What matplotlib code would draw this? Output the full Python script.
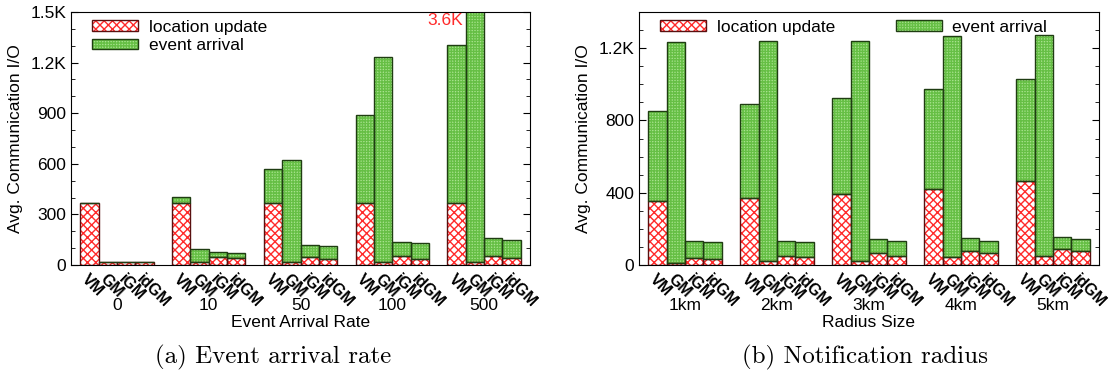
import numpy as np
import matplotlib
matplotlib.use('Agg')
import matplotlib.pyplot as plt
from matplotlib.patches import Patch
from matplotlib.legend_handler import HandlerTuple

plt.rcParams['font.family'] = ['Liberation Sans', 'DejaVu Sans']
plt.rcParams['hatch.linewidth'] = 1.0

methods = ['VM', 'GM', 'iGM', 'idGM']

# (a) event arrival rate
rate_groups = ['0', '10', '50', '100', '500']
rate_loc = [[370, 20, 20, 20],
            [370, 18, 46, 40],
            [370, 15, 46, 37],
            [370, 15, 52, 37],
            [370, 15, 52, 43]]
rate_total = [[370, 20, 20, 20],
              [405, 95, 75, 71],
              [568, 625, 119, 111],
              [888, 1232, 138, 129],
              [1305, 3600, 158, 146]]

# (b) notification radius
radius_groups = ['1km', '2km', '3km', '4km', '5km']
radius_loc = [[352, 10, 39, 32],
              [370, 20, 50, 43],
              [393, 22, 65, 52],
              [423, 43, 76, 67],
              [464, 52, 89, 76]]
radius_total = [[854, 1233, 133, 128],
                [893, 1237, 132, 128],
                [926, 1241, 143, 133],
                [976, 1265, 152, 135],
                [1030, 1272, 157, 144]]

RED = '#ff2a2a'
GREEN_FACE = '#a8e38e'
GREEN_HATCH = '#66bf45'
FS = 12.5


def draw_panel(ax, groups, loc, total, xlabel, ymax, yticks, yticklabels, minor_step):
    loc = np.array(loc, dtype=float)
    total = np.array(total, dtype=float)
    ev = total - loc
    xs, names = [], []
    for g in range(len(groups)):
        for i in range(len(methods)):
            xs.append(5 * g + i)
            names.append(methods[i])
    xs = np.array(xs, dtype=float)
    lv = loc.ravel()
    ev = ev.ravel()

    ax.bar(xs, lv, width=1, align='edge', facecolor='white', edgecolor=RED,
           hatch='xxxx', linewidth=0)
    ax.bar(xs, ev, bottom=lv, width=1, align='edge', facecolor=GREEN_FACE,
           edgecolor=GREEN_HATCH, hatch='++++++', linewidth=0)
    ax.bar(xs, lv, width=1, align='edge', fill=False, edgecolor='#5a1010', linewidth=1.0)
    ax.bar(xs, ev, bottom=lv, width=1, align='edge', fill=False, edgecolor='#1f3d12',
           linewidth=1.0)

    ax.set_xlim(-0.5, 5 * len(groups) - 0.5)
    ax.set_ylim(0, ymax)
    ax.set_yticks(yticks)
    ax.set_yticklabels(yticklabels, fontsize=FS)
    ax.set_yticks(np.arange(0, ymax + 1, minor_step), minor=True)
    ax.tick_params(axis='y', which='both', direction='in', right=True, labelright=False)
    ax.tick_params(axis='y', which='major', length=5)
    ax.tick_params(axis='y', which='minor', length=3)

    ax.set_xticks(xs + 0.5)
    ax.set_xticklabels(names, rotation=-45, ha='left', va='top', rotation_mode='anchor',
                       fontsize=11.5, fontweight='bold')
    ax.tick_params(axis='x', length=0, pad=5)
    for g, name in enumerate(groups):
        ax.text(5 * g + 2, -0.162, name, transform=ax.get_xaxis_transform(),
                ha='center', va='center', fontsize=FS)
    ax.set_xlabel(xlabel, fontsize=FS)
    ax.xaxis.set_label_coords(0.5, -0.198)
    ax.set_ylabel('Avg. Communication I/O', fontsize=FS)
    ax.yaxis.set_label_coords(-0.105, 0.5)


fig = plt.figure(figsize=(11.19, 3.81), dpi=100)
ax1 = fig.add_axes([71 / 1119, 116 / 381, 459 / 1119, 253 / 381])
ax2 = fig.add_axes([639 / 1119, 116 / 381, 460 / 1119, 253 / 381])

draw_panel(ax1, rate_groups, rate_loc, rate_total, 'Event Arrival Rate', 1500,
           [0, 300, 600, 900, 1200, 1500], ['0', '300', '600', '900', '1.2K', '1.5K'], 100)
draw_panel(ax2, radius_groups, radius_loc, radius_total, 'Radius Size', 1400,
           [0, 400, 800, 1200], ['0', '400', '800', '1.2K'], 100)

# clipped GM bar at rate 500
ax1.text(5 * 4 + 0.85, 1495, '3.6K', color=RED, ha='right', va='top', fontsize=FS)

loc_handle = (Patch(facecolor='white', edgecolor=RED, hatch='xxxx', linewidth=0),
              Patch(fill=False, edgecolor='#5a1010', linewidth=1.0))
ev_handle = (Patch(facecolor=GREEN_FACE, edgecolor=GREEN_HATCH, hatch='++++++', linewidth=0),
             Patch(fill=False, edgecolor='#1f3d12', linewidth=1.0))
leg_kw = dict(handler_map={tuple: HandlerTuple(ndivide=1, pad=0)}, frameon=False,
              fontsize=FS, handlelength=2.65, handleheight=0.55, handletextpad=0.6,
              borderaxespad=0, borderpad=0)
ax1.legend([loc_handle, ev_handle], ['location update', 'event arrival'],
           loc='upper left', bbox_to_anchor=(0.046, 0.97), labelspacing=0.2, **leg_kw)
ax2.legend([loc_handle, ev_handle], ['location update', 'event arrival'],
           loc='upper left', bbox_to_anchor=(0.046, 0.97), ncol=2, columnspacing=3.5,
           **leg_kw)

fig.text(273 / 1119, 1 - 357 / 381, '(a) Event arrival rate', ha='center', va='center',
         fontsize=18, family='cmr10')
fig.text(865 / 1119, 1 - 357 / 381, '(b) Notification radius', ha='center', va='center',
         fontsize=18, family='cmr10')

fig.savefig('out.png', dpi=100)
